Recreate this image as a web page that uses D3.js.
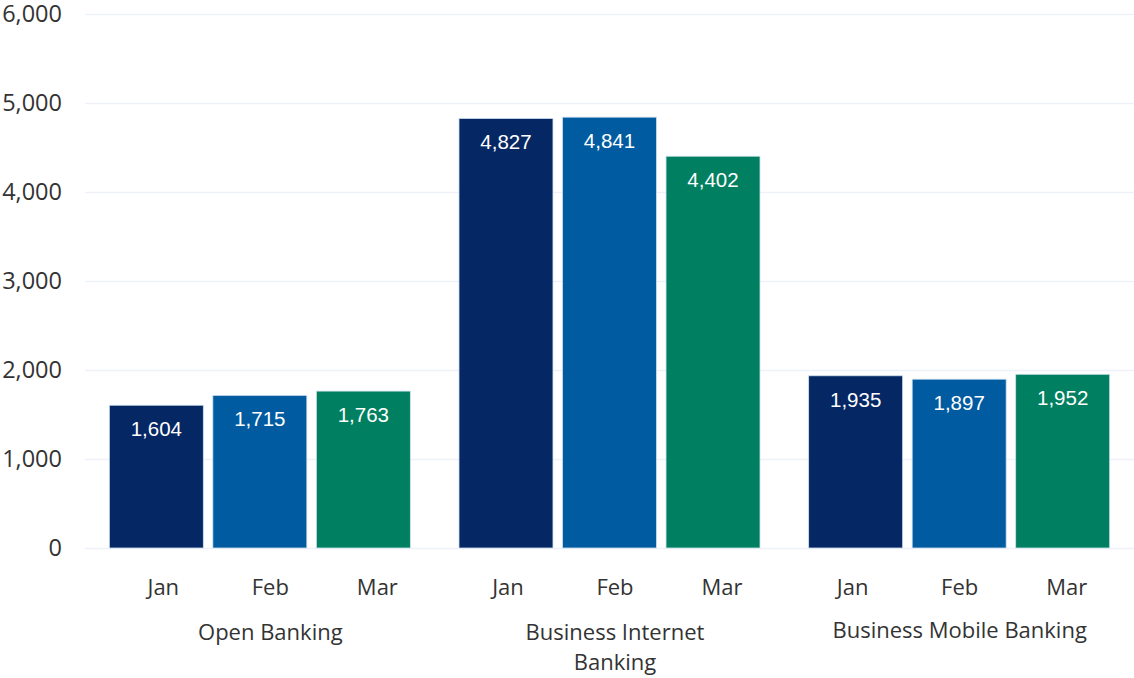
<!DOCTYPE html>
<html><head><meta charset="utf-8">
<script src="https://cdn.jsdelivr.net/npm/d3@7"></script>
<style>body{margin:0;background:#fff}svg{display:block}</style>
</head><body>
<svg id="c" width="1134" height="678"></svg>
<script>
const categories = [["Open Banking"], ["Business Internet", "Banking"], ["Business Mobile Banking"]];
const months = ["Jan", "Feb", "Mar"];
const jan = [1604, 4827, 1935];
const feb = [1715, 4841, 1897];
const mar = [1763, 4402, 1952];
const yTicks = [0, 1000, 2000, 3000, 4000, 5000, 6000];
const colors = ["#052764", "#005ba1", "#008060"];

(function () {
const series = [jan, feb, mar];
const svg = d3.select("#c");
const mLeft = 85, mRight = 1134, mTop = 14, mBottom = 548;
const font = "'Open Sans', 'Noto Sans', sans-serif";
const y = d3.scaleLinear().domain([0, 6000]).range([mBottom, mTop]);
const x0 = d3.scaleBand().domain(d3.range(categories.length)).range([mLeft, mRight]);
const x1 = d3.scaleBand().domain(d3.range(months.length)).range([0, x0.bandwidth()]).paddingInner(0.092).paddingOuter(0.235);
// label slots (axis labels are laid out slightly differently from the bars)
const x0L = d3.scaleBand().domain(d3.range(categories.length)).range([98, 1132]);
const x1L = d3.scalePoint().domain(d3.range(months.length)).range([0, x0L.bandwidth()]).padding(0.61);

const yAxis = d3.axisLeft(y).tickValues(yTicks).tickSize(-(mRight - mLeft)).tickFormat(d3.format(","));
const ga = svg.append("g").attr("transform", `translate(${mLeft},0)`).call(yAxis);
ga.select(".domain").remove();
ga.selectAll(".tick line").attr("stroke", "#eef2f8").attr("stroke-width", 1.3);
ga.selectAll(".tick text").attr("x", -23).attr("fill", "#333")
  .style("font-family", font).style("font-size", "23.5px");

const g = svg.append("g");
categories.forEach((cat, ci) => {
  const gx = x0(ci);
  months.forEach((m, mi) => {
    const v = series[mi][ci];
    const bx = gx + x1(mi);
    g.append("rect").attr("x", bx).attr("y", y(v)).attr("width", x1.bandwidth()).attr("height", y(0) - y(v))
      .attr("fill", colors[mi]).attr("stroke", "#cfe0ee").attr("stroke-width", 0.8);
    g.append("text").attr("x", bx + x1.bandwidth() / 2).attr("y", y(v) + 31).attr("text-anchor", "middle")
      .attr("fill", "#fff").style("font-family", "'Liberation Sans', Arial, sans-serif").style("font-size", "20.5px")
      .text(d3.format(",")(v));
    g.append("text").attr("x", x0L(ci) + x1L(mi)).attr("y", 595).attr("text-anchor", "middle")
      .attr("fill", "#333").style("font-family", font).style("font-size", "22px")
      .text(m);
  });
  const cx = x0L(ci) + x0L.bandwidth() / 2;
  const t = g.append("text").attr("text-anchor", "middle")
    .attr("fill", "#333").style("font-family", font).style("font-size", "22px");
  const baseY = ci === 2 ? 638 : 640;
  cat.forEach((line, li) => {
    t.append("tspan").attr("x", cx).attr("y", baseY + li * 30).text(line);
  });
});
})();
</script>
</body></html>
